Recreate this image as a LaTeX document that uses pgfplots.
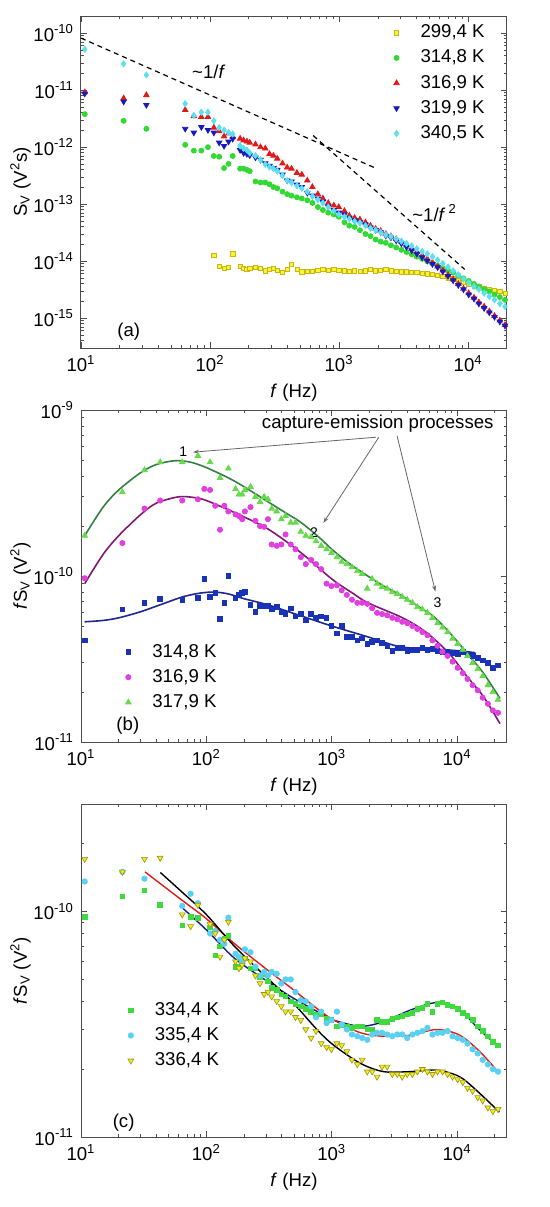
\documentclass[border=0pt]{standalone}
\usepackage{fontspec}
\setmainfont{Liberation Sans}
\usepackage{pgfplots}
\usepackage{pgfplotstable}
\pgfplotsset{compat=1.18}
\usetikzlibrary{arrows.meta}

\definecolor{aY}{rgb}{0.98,0.95,0.2}
\definecolor{aYd}{rgb}{0.78,0.72,0.1}
\definecolor{aG}{rgb}{0.2,0.85,0.2}
\definecolor{aR}{rgb}{0.88,0.1,0.1}
\definecolor{aB}{rgb}{0.1,0.1,0.75}
\definecolor{aC}{rgb}{0.35,0.88,0.95}
\definecolor{bB}{rgb}{0.1,0.2,0.72}
\definecolor{bM}{rgb}{0.88,0.25,0.88}
\definecolor{bG}{rgb}{0.4,0.85,0.3}
\definecolor{bGc}{rgb}{0.2,0.5,0.25}
\definecolor{bMc}{rgb}{0.5,0.1,0.45}
\definecolor{bBc}{rgb}{0.12,0.15,0.55}
\definecolor{cG}{rgb}{0.25,0.85,0.25}
\definecolor{cC}{rgb}{0.35,0.82,0.95}
\definecolor{cY}{rgb}{0.95,0.92,0.1}
\definecolor{cYd}{rgb}{0.6,0.58,0.1}
\definecolor{cNv}{rgb}{0.1,0.1,0.5}
\definecolor{cRd}{rgb}{0.9,0.1,0.1}

\newcommand\ff{\fontsize{9.3}{10.5}\selectfont}

\pgfplotstableread{
f Y G R B C
10.7 nan 3.8e-12 9.2e-12 8.7e-12 5.2e-11
21.4 nan 2.9e-12 7.2e-12 6.3e-12 2.9e-11
32.1 nan 2.1e-12 8.2e-12 5.5e-12 1.85e-11
64.2 nan 1.1e-12 4.5e-12 2.1e-12 5.8e-12
74.9 nan 8.7e-13 3.5e-12 1.8e-12 3.6e-12
85.6 nan 8.7e-13 3.4e-12 2.25e-12 4.1e-12
96.3 nan 1.0e-12 3.4e-12 2.0e-12 4.1e-12
107 1.25e-14 7.0e-13 2.2e-12 1.8e-12 2.9e-12
117.7 8.1e-15 6.8e-13 1.9e-12 1.2e-12 2.2e-12
128.4 7.6e-15 4.3e-13 1.55e-12 1.05e-12 2.0e-12
139.1 7.9e-15 5.1e-13 1.75e-12 1.25e-12 1.8e-12
149.8 1.35e-14 7.0e-13 1.5e-12 1.4e-12 1.7e-12
171 8.1e-15 4.2e-13 1.41e-12 8.9e-13 1.05e-12
182 7.6e-15 4.2e-13 1.32e-12 7.9e-13 9.5e-13
193 7.2e-15 4.0e-13 1.26e-12 7.6e-13 8.9e-13
203 7.4e-15 3.8e-13 1.2e-12 7.2e-13 7.9e-13
225 7.9e-15 2.5e-13 1.12e-12 6.6e-13 7.1e-13
246 7.6e-15 2.4e-13 1.0e-12 6.0e-13 6.0e-13
268 6.8e-15 2.4e-13 9.5e-13 5.2e-13 5.0e-13
289 7.2e-15 2.24e-13 7.6e-13 4.7e-13 4.5e-13
310 7.6e-15 2.0e-13 7.1e-13 4.3e-13 4.2e-13
332 6.9e-15 1.9e-13 6.3e-13 4.0e-13 3.8e-13
364 6.3e-15 1.66e-13 5.2e-13 3.3e-13 3.2e-13
396 7.2e-15 1.5e-13 4.4e-13 2.6e-13 2.6e-13
428 8.9e-15 1.41e-13 4.2e-13 2.5e-13 2.4e-13
471 7.2e-15 1.32e-13 3.55e-13 2.2e-13 2.1e-13
514 6.5e-15 1.26e-13 3.3e-13 2.0e-13 1.9e-13
567 6.6e-15 1.17e-13 2.6e-13 1.58e-13 1.66e-13
621 6.6e-15 1.05e-13 2.0e-13 1.41e-13 1.38e-13
685 6.9e-15 8.9e-14 1.5e-13 1.26e-13 1.2e-13
749 7.2e-15 7.9e-14 1.26e-13 1.1e-13 1.05e-13
824 6.9e-15 7.1e-14 1.05e-13 9.1e-14 8.9e-14
910 7.1e-15 6.6e-14 9.5e-14 7.9e-14 7.6e-14
995 6.9e-15 6.0e-14 8.9e-14 7.1e-14 6.6e-14
1100 6.8e-15 4.8e-14 7.6e-14 6.6e-14 6.0e-14
1200 6.6e-15 4.2e-14 6.3e-14 5.75e-14 5.5e-14
1320 6.8e-15 4.0e-14 5.75e-14 5.2e-14 5.0e-14
1450 6.6e-15 3.5e-14 5.4e-14 4.8e-14 4.7e-14
1600 6.8e-15 3.0e-14 4.8e-14 4.4e-14 4.2e-14
1750 7.1e-15 2.75e-14 4.2e-14 3.9e-14 3.8e-14
1920 6.8e-15 2.4e-14 3.7e-14 3.5e-14 3.5e-14
2100 6.9e-15 2.2e-14 3.4e-14 3.2e-14 3.2e-14
2300 7.2e-15 2.1e-14 3.0e-14 2.8e-14 2.9e-14
2520 6.8e-15 1.9e-14 2.75e-14 2.6e-14 2.7e-14
2770 6.6e-15 1.74e-14 2.45e-14 2.3e-14 2.45e-14
3040 6.5e-15 1.58e-14 2.2e-14 2.04e-14 2.24e-14
3330 6.5e-15 1.45e-14 1.9e-14 1.78e-14 2.04e-14
3650 6.3e-15 1.32e-14 1.66e-14 1.55e-14 1.86e-14
4000 6.3e-15 1.2e-14 1.45e-14 1.35e-14 1.66e-14
4400 6.2e-15 1.1e-14 1.26e-14 1.17e-14 1.48e-14
4820 6.0e-15 1.0e-14 1.1e-14 1.02e-14 1.35e-14
5290 5.9e-15 9.1e-15 9.5e-15 8.9e-15 1.2e-14
5800 5.6e-15 8.3e-15 8.1e-15 7.8e-15 1.05e-14
6360 5.4e-15 7.6e-15 6.9e-15 6.6e-15 9.1e-15
6980 5.1e-15 6.9e-15 5.75e-15 5.5e-15 7.9e-15
7650 4.9e-15 6.3e-15 4.8e-15 4.6e-15 6.8e-15
8390 4.6e-15 5.6e-15 4.0e-15 3.8e-15 5.8e-15
9200 4.3e-15 5.0e-15 3.3e-15 3.2e-15 4.9e-15
10100 4.0e-15 4.5e-15 2.75e-15 2.6e-15 4.2e-15
11100 3.7e-15 4.0e-15 2.3e-15 2.2e-15 3.6e-15
12100 3.55e-15 3.6e-15 1.9e-15 1.8e-15 3.2e-15
13300 3.4e-15 3.2e-15 1.6e-15 1.5e-15 2.75e-15
14600 3.2e-15 2.95e-15 1.32e-15 1.26e-15 2.4e-15
16000 3.1e-15 2.6e-15 1.1e-15 1.05e-15 2.1e-15
17600 2.95e-15 2.35e-15 9.1e-16 8.7e-16 1.8e-15
19300 2.75e-15 2.1e-15 7.6e-16 7.4e-16 1.6e-15
}\tabA

\pgfplotstableread{
f B M G
10.7 4.1e-11 9.7e-11 1.75e-10
21.4 6.3e-11 1.58e-10 3.2e-10
32.1 6.9e-11 2.55e-10 4.35e-10
42.8 7.3e-11 2.85e-10 4.85e-10
64.2 7.2e-11 2.85e-10 4.85e-10
85.6 7.4e-11 2.9e-10 5.3e-10
96.3 9.6e-11 3.35e-10 nan
107 7.5e-11 3.3e-10 4.85e-10
117.7 7.9e-11 2.65e-10 nan
128.4 5.5e-11 1.9e-10 3.9e-10
139.1 6.9e-11 2.65e-10 nan
149.8 1.0e-10 2.45e-10 4.45e-10
171 7.4e-11 2.35e-10 3.35e-10
182 7.7e-11 2.3e-10 3.1e-10
193 7.9e-11 2.2e-10 3.1e-10
203 8.0e-11 2.45e-10 3.3e-10
225 6.7e-11 2.6e-10 3.45e-10
246 6.1e-11 2.15e-10 3.0e-10
268 6.6e-11 2.0e-10 2.8e-10
289 6.6e-11 1.98e-10 3.0e-10
310 6.6e-11 2.2e-10 2.9e-10
332 6.3e-11 1.55e-10 2.55e-10
364 6.5e-11 1.52e-10 2.45e-10
396 6.1e-11 1.55e-10 2.2e-10
428 5.9e-11 1.78e-10 2.3e-10
471 6.4e-11 1.55e-10 2.1e-10
514 5.7e-11 1.45e-10 2.1e-10
567 5.9e-11 1.3e-10 1.85e-10
621 5.4e-11 1.18e-10 1.75e-10
685 5.9e-11 1.25e-10 1.72e-10
749 5.6e-11 1.18e-10 1.62e-10
824 5.7e-11 1.1e-10 1.52e-10
910 5.6e-11 9.0e-11 1.45e-10
995 5.0e-11 8.7e-11 1.38e-10
1100 4.5e-11 8.8e-11 1.3e-10
1200 5.0e-11 8.2e-11 1.22e-10
1320 4.3e-11 7.7e-11 1.18e-10
1450 4.3e-11 7.2e-11 1.13e-10
1600 4.1e-11 6.9e-11 1.07e-10
1750 4.2e-11 6.9e-11 1.03e-10
1920 3.9e-11 6.8e-11 8.4e-11
2100 4.0e-11 6.4e-11 9.6e-11
2300 4.1e-11 6.0e-11 9.0e-11
2520 3.95e-11 5.9e-11 8.6e-11
2770 3.8e-11 5.8e-11 8.4e-11
3040 3.55e-11 5.6e-11 8.0e-11
3330 3.7e-11 5.5e-11 7.8e-11
3650 3.7e-11 5.3e-11 7.5e-11
4000 3.55e-11 5.2e-11 7.2e-11
4400 3.6e-11 5.0e-11 6.9e-11
4820 3.6e-11 4.8e-11 6.5e-11
5290 3.7e-11 4.6e-11 6.3e-11
5800 3.6e-11 4.4e-11 6.0e-11
6360 3.65e-11 4.1e-11 5.6e-11
6980 3.55e-11 3.8e-11 5.2e-11
7650 3.5e-11 3.5e-11 4.9e-11
8390 3.5e-11 3.3e-11 4.6e-11
9200 3.45e-11 3.05e-11 4.2e-11
10100 3.4e-11 2.8e-11 3.9e-11
11100 3.5e-11 2.6e-11 3.6e-11
12100 3.35e-11 2.4e-11 3.3e-11
13300 3.3e-11 2.2e-11 3.0e-11
14600 3.2e-11 2.05e-11 2.75e-11
16000 3.1e-11 1.85e-11 2.5e-11
17600 3.0e-11 1.7e-11 2.2e-11
19300 2.8e-11 1.55e-11 2.0e-11
21200 2.9e-11 1.5e-11 1.8e-11
}\tabB

\pgfplotstableread{
f G C Y
10.7 9.5e-11 1.36e-10 1.71e-10
21.4 1.17e-10 1.5e-10 1.5e-10
32.1 1.24e-10 1.4e-10 1.71e-10
42.8 1.07e-10 nan 1.73e-10
64.2 8.7e-11 1.06e-10 9.7e-11
74.9 9.5e-11 1.2e-10 8.6e-11
85.6 9.4e-11 1.09e-10 1.07e-10
107 8.5e-11 8.0e-11 8.8e-11
117.7 6.4e-11 8.2e-11 8.0e-11
128.4 7.0e-11 7.5e-11 6.3e-11
139.1 7.6e-11 7.2e-11 7.5e-11
149.8 7.8e-11 9.4e-11 9.0e-11
171 5.7e-11 6.5e-11 6.0e-11
182 5.7e-11 6.3e-11 5.6e-11
193 6.0e-11 6.0e-11 5.8e-11
203 6.2e-11 6.8e-11 6.2e-11
225 5.6e-11 6.6e-11 6.0e-11
246 5.6e-11 5.7e-11 5.2e-11
268 5.1e-11 5.2e-11 4.8e-11
289 5.3e-11 5.4e-11 4.3e-11
310 4.9e-11 5.2e-11 4.4e-11
332 4.6e-11 5.4e-11 4.2e-11
364 4.5e-11 5.3e-11 4.0e-11
396 4.3e-11 4.8e-11 3.8e-11
428 4.2e-11 5.0e-11 3.6e-11
471 4.0e-11 5.0e-11 3.6e-11
514 3.9e-11 4.4e-11 3.4e-11
567 3.8e-11 4.05e-11 3.3e-11
621 3.7e-11 4.0e-11 3.0e-11
685 3.6e-11 3.8e-11 2.75e-11
749 3.5e-11 3.4e-11 2.95e-11
824 3.5e-11 3.6e-11 2.6e-11
910 3.35e-11 3.2e-11 2.5e-11
995 3.3e-11 3.3e-11 2.45e-11
1100 3.1e-11 3.6e-11 2.6e-11
1200 3.15e-11 3.15e-11 2.55e-11
1320 3.1e-11 3.0e-11 2.4e-11
1450 3.05e-11 2.85e-11 2.2e-11
1600 3.1e-11 2.8e-11 2.1e-11
1750 3.1e-11 2.75e-11 2.2e-11
1920 3.0e-11 2.7e-11 1.95e-11
2100 3.0e-11 2.85e-11 1.95e-11
2300 3.3e-11 2.9e-11 1.85e-11
2520 3.25e-11 2.9e-11 2.05e-11
2770 3.25e-11 2.85e-11 2.05e-11
3040 3.35e-11 2.8e-11 1.9e-11
3330 3.4e-11 2.85e-11 1.9e-11
3650 3.45e-11 2.85e-11 1.85e-11
4000 3.5e-11 2.75e-11 1.9e-11
4400 3.55e-11 2.85e-11 1.9e-11
4820 3.7e-11 2.9e-11 1.95e-11
5290 3.75e-11 2.95e-11 2.0e-11
5800 3.9e-11 3.05e-11 1.95e-11
6360 3.6e-11 2.85e-11 1.9e-11
6980 3.9e-11 2.9e-11 1.95e-11
7650 3.95e-11 2.9e-11 1.95e-11
8390 3.85e-11 2.95e-11 1.9e-11
9200 3.8e-11 2.8e-11 1.85e-11
10100 3.7e-11 2.75e-11 1.8e-11
11100 3.55e-11 2.7e-11 1.75e-11
12100 3.45e-11 2.6e-11 1.65e-11
13300 3.3e-11 2.45e-11 1.6e-11
14600 3.1e-11 2.35e-11 1.5e-11
16000 2.95e-11 2.2e-11 1.45e-11
17600 2.8e-11 2.1e-11 1.35e-11
19300 2.65e-11 2.0e-11 1.3e-11
21200 2.55e-11 1.95e-11 1.33e-11
}\tabC

\pgfplotsset{
  every axis/.append style={
    scale only axis,
    axis line style={black!70, line width=0.5pt},
    major tick length=3pt, minor tick length=1.7pt,
    tick label style={font=\ff},
    label style={font=\ff},
    legend cell align=left,
  },
  every tick/.append style={black!70, line width=0.4pt},
  legmk/.style={legend image code/.code={\draw[##1] plot coordinates {(0pt,0pt)};\path[draw=none,fill=none] (-3pt,0pt) -- (10pt,0pt);}},
}

\begin{document}
\begin{tikzpicture}
\path[use as bounding box] (0,0) rectangle (275pt,603.5pt);

% ---------------- (a) ----------------
\begin{axis}[xmode=log, ymode=log,
  width=213pt, height=166pt,
  at={(40.5pt,429.5pt)}, anchor=south west,
  xmin=10, xmax=20000, ymin=3e-16, ymax=2e-10,
  xtick={10,100,1000,10000},
  xticklabels={10\textsuperscript{1},10\textsuperscript{2},10\textsuperscript{3},10\textsuperscript{4}},
  minor xtick={20,30,40,50,60,70,80,90,200,300,400,500,600,700,800,900,2000,3000,4000,5000,6000,7000,8000,9000},
  ytick={1e-15,1e-14,1e-13,1e-12,1e-11,1e-10},
  yticklabels={10\textsuperscript{-15},10\textsuperscript{-14},10\textsuperscript{-13},10\textsuperscript{-12},10\textsuperscript{-11},10\textsuperscript{-10}},
  minor ytick={4e-16,5e-16,6e-16,7e-16,8e-16,9e-16,2e-15,3e-15,4e-15,5e-15,6e-15,7e-15,8e-15,9e-15,2e-14,3e-14,4e-14,5e-14,6e-14,7e-14,8e-14,9e-14,2e-13,3e-13,4e-13,5e-13,6e-13,7e-13,8e-13,9e-13,2e-12,3e-12,4e-12,5e-12,6e-12,7e-12,8e-12,9e-12,2e-11,3e-11,4e-11,5e-11,6e-11,7e-11,8e-11,9e-11,2e-10},
  xlabel={\textit{f} (Hz)},
  ylabel={S\textsubscript{V} (V\textsuperscript{2}s)},
  xlabel style={at={(axis description cs:0.5,-0.135)}, anchor=center},
  ylabel style={at={(axis description cs:-0.142,0.5)}, anchor=center},
  legend style={draw=none, fill=none, font=\ff, row sep=0.6pt, at={(rel axis cs:0.972,0.999)}, anchor=north east},
]
\addplot[only marks, legmk, mark=square*, mark size=1.05pt, mark options={fill=aY, draw=aYd, line width=0.3pt}] table[x=f, y=Y] {\tabA};
\addlegendentry{299,4 K}
\addplot[only marks, legmk, mark=*, mark size=1.25pt, mark options={fill=aG, draw=aG}] table[x=f, y=G] {\tabA};
\addlegendentry{314,8 K}
\addplot[only marks, legmk, mark=triangle*, mark size=1.55pt, mark options={fill=aR, draw=aR}] table[x=f, y=R] {\tabA};
\addlegendentry{316,9 K}
\addplot[only marks, legmk, mark=triangle*, mark size=1.55pt, mark options={fill=aB, draw=aB, rotate=180}] table[x=f, y=B] {\tabA};
\addlegendentry{319,9 K}
\addplot[only marks, legmk, mark=diamond*, mark size=1.5pt, mark options={fill=aC, draw=aC}] table[x=f, y=C] {\tabA};
\addlegendentry{340,5 K}
\addplot[black, line width=0.6pt, dash pattern=on 2.5pt off 2pt, forget plot] coordinates {(10,8.2e-11) (1910,4.3e-13)};
\addplot[black, line width=0.6pt, dash pattern=on 2.5pt off 2pt, forget plot] coordinates {(630,1.6e-12) (9400,7.2e-15)};
\node[font=\ff] at (rel axis cs:0.3,0.831) {\textasciitilde 1/\textit{f}};
\node[font=\ff] at (rel axis cs:0.83,0.407) {\textasciitilde 1/\textit{f}\,\textsuperscript{2}};
\node[font=\ff] at (rel axis cs:0.112,0.05) {(a)};
\end{axis}

% ---------------- (b) ----------------
\begin{axis}[xmode=log, ymode=log,
  width=213pt, height=166pt,
  at={(40.5pt,232.5pt)}, anchor=south west,
  xmin=10, xmax=25000, ymin=1e-11, ymax=1e-9,
  xtick={10,100,1000,10000},
  xticklabels={10\textsuperscript{1},10\textsuperscript{2},10\textsuperscript{3},10\textsuperscript{4}},
  minor xtick={20,30,40,50,60,70,80,90,200,300,400,500,600,700,800,900,2000,3000,4000,5000,6000,7000,8000,9000,20000},
  ytick={1e-11,1e-10,1e-9},
  yticklabels={10\textsuperscript{-11},10\textsuperscript{-10},10\textsuperscript{-9}},
  minor ytick={2e-11,3e-11,4e-11,5e-11,6e-11,7e-11,8e-11,9e-11,2e-10,3e-10,4e-10,5e-10,6e-10,7e-10,8e-10,9e-10},
  xlabel={\textit{f} (Hz)},
  ylabel={\textit{f}S\textsubscript{V} (V\textsuperscript{2})},
  xlabel style={at={(axis description cs:0.5,-0.135)}, anchor=center},
  ylabel style={at={(axis description cs:-0.142,0.5)}, anchor=center},
  legend style={draw=none, fill=none, font=\ff, row sep=0.6pt, at={(rel axis cs:0.082,0.07)}, anchor=south west},
]
\addplot[only marks, legmk, mark=square*, mark size=1.15pt, mark options={fill=bB, draw=bB}] table[x=f, y=B] {\tabB};
\addlegendentry{314,8 K}
\addplot[only marks, legmk, mark=*, mark size=1.3pt, mark options={fill=bM, draw=bM}] table[x=f, y=M] {\tabB};
\addlegendentry{316,9 K}
\addplot[only marks, legmk, mark=triangle*, mark size=1.6pt, mark options={fill=bG, draw=bG}] table[x=f, y=G] {\tabB};
\addlegendentry{317,9 K}
\addplot[bBc, line width=0.8pt, smooth, forget plot] coordinates {(10.7,5.3e-11) (15,5.4e-11) (20,5.6e-11) (30,6.1e-11) (45,6.8e-11) (65,7.5e-11) (90,7.9e-11) (117,8.0e-11) (150,7.8e-11) (200,7.3e-11) (310,6.7e-11) (570,5.75e-11) (1000,5.0e-11) (1940,4.3e-11) (3500,3.75e-11) (6000,3.65e-11) (10000,3.55e-11) (14000,3.45e-11)};
\addplot[bMc, line width=0.8pt, smooth, forget plot] coordinates {(10.7,9e-11) (15,1.35e-10) (20,1.75e-10) (30,2.35e-10) (40,2.75e-10) (60,3.0e-10) (80,2.97e-10) (100,2.85e-10) (170,2.4e-10) (310,1.92e-10) (570,1.38e-10) (1000,9.6e-11) (1500,7.8e-11) (1940,6.9e-11) (3500,5.7e-11) (5000,4.9e-11) (6500,4.2e-11) (8850,3.35e-11) (12000,2.48e-11) (16200,1.88e-11) (22000,1.29e-11)};
\addplot[bGc, line width=0.8pt, smooth, forget plot] coordinates {(10.7,1.75e-10) (15,2.6e-10) (20,3.3e-10) (30,4.2e-10) (40,4.7e-10) (56,4.95e-10) (75,4.85e-10) (100,4.5e-10) (150,3.9e-10) (200,3.45e-10) (310,2.8e-10) (450,2.35e-10) (570,2.1e-10) (800,1.7e-10) (1000,1.45e-10) (1400,1.18e-10) (1940,1.0e-10) (2600,8.7e-11) (3500,7.7e-11) (5000,6.5e-11) (6500,5.7e-11) (8850,4.5e-11) (12000,3.43e-11) (16200,2.6e-11) (22000,1.83e-11)};
\node[font=\ff, anchor=east] at (rel axis cs:0.985,0.958) {capture-emission processes};
\draw[black!60, line width=0.4pt, -{Stealth[length=3pt,width=2pt]}] (rel axis cs:0.692,0.918) -- (rel axis cs:0.263,0.873);
\draw[black!60, line width=0.4pt, -{Stealth[length=3pt,width=2pt]}] (rel axis cs:0.699,0.918) -- (rel axis cs:0.569,0.660);
\draw[black!60, line width=0.4pt, -{Stealth[length=3pt,width=2pt]}] (rel axis cs:0.742,0.922) -- (rel axis cs:0.832,0.453);
\node[font=\fontsize{7}{8}\selectfont] at (rel axis cs:0.24,0.874) {1};
\node[font=\fontsize{7}{8}\selectfont] at (rel axis cs:0.547,0.630) {2};
\node[font=\fontsize{7}{8}\selectfont] at (rel axis cs:0.837,0.42) {3};
\node[font=\ff] at (rel axis cs:0.11,0.048) {(b)};
\end{axis}

% ---------------- (c) ----------------
\begin{axis}[xmode=log, ymode=log,
  width=213pt, height=166.5pt,
  at={(40.5pt,35pt)}, anchor=south west,
  xmin=10, xmax=25000, ymin=1e-11, ymax=3e-10,
  xtick={10,100,1000,10000},
  xticklabels={10\textsuperscript{1},10\textsuperscript{2},10\textsuperscript{3},10\textsuperscript{4}},
  minor xtick={20,30,40,50,60,70,80,90,200,300,400,500,600,700,800,900,2000,3000,4000,5000,6000,7000,8000,9000,20000},
  ytick={1e-11,1e-10},
  yticklabels={10\textsuperscript{-11},10\textsuperscript{-10}},
  minor ytick={2e-11,3e-11,4e-11,5e-11,6e-11,7e-11,8e-11,9e-11,2e-10,3e-10},
  xlabel={\textit{f} (Hz)},
  ylabel={\textit{f}S\textsubscript{V} (V\textsuperscript{2})},
  xlabel style={at={(axis description cs:0.5,-0.135)}, anchor=center},
  ylabel style={at={(axis description cs:-0.142,0.5)}, anchor=center},
  legend style={draw=none, fill=none, font=\ff, row sep=0.6pt, at={(rel axis cs:0.088,0.18)}, anchor=south west},
]
\addplot[only marks, legmk, mark=square*, mark size=1.15pt, mark options={fill=cG, draw=cG}] table[x=f, y=G] {\tabC};
\addlegendentry{334,4 K}
\addplot[only marks, legmk, mark=*, mark size=1.35pt, mark options={fill=cC, draw=cC}] table[x=f, y=C] {\tabC};
\addlegendentry{335,4 K}
\addplot[only marks, legmk, mark=triangle*, mark size=1.7pt, mark options={fill=cY, draw=cYd, line width=0.3pt, rotate=180}] table[x=f, y=Y] {\tabC};
\addlegendentry{336,4 K}
\addplot[cNv, line width=0.7pt, smooth, forget plot] coordinates {(63,1.05e-10) (100,8.3e-11) (168,6.2e-11) (308,4.9e-11) (470,4.2e-11) (770,3.6e-11) (1040,3.3e-11) (1700,3.1e-11) (2600,3.25e-11) (4200,3.65e-11) (6900,3.95e-11) (10500,3.65e-11) (15200,2.98e-11) (21700,2.5e-11)};
\addplot[cRd, line width=0.7pt, smooth, forget plot] coordinates {(32.4,1.5e-10) (63,1.13e-10) (100,9.3e-11) (168,7.2e-11) (308,5.5e-11) (470,4.6e-11) (770,3.7e-11) (1040,3.3e-11) (1700,2.9e-11) (2600,2.8e-11) (4200,2.83e-11) (6900,3.0e-11) (10500,2.83e-11) (15200,2.39e-11) (21700,1.92e-11)};
\addplot[black, line width=0.7pt, smooth, forget plot] coordinates {(43,1.49e-10) (63,1.23e-10) (100,9.7e-11) (168,7.0e-11) (308,5.06e-11) (470,4.05e-11) (770,2.98e-11) (1040,2.55e-11) (1700,2.12e-11) (2600,1.95e-11) (4200,1.95e-11) (6900,1.98e-11) (10500,1.85e-11) (15200,1.56e-11) (21700,1.29e-11)};
\node[font=\ff] at (rel axis cs:0.1,0.042) {(c)};
\end{axis}
\end{tikzpicture}
\end{document}
